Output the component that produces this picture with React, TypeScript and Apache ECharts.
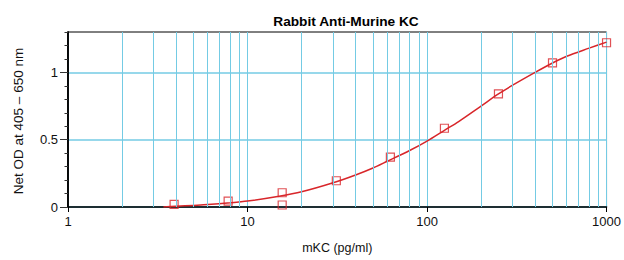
import React, { useEffect, useRef } from "react";
import * as echarts from "echarts";

const title = "Rabbit Anti-Murine KC";
const xName = "mKC (pg/ml)";
const yName = "Net OD at 405 \u2013 650 nm";

const pointX = [3.9, 7.8, 15.6, 15.6, 31.25, 62.5, 125, 250, 500, 1000];
const pointY = [0.02, 0.044, 0.106, 0.015, 0.195, 0.37, 0.585, 0.84, 1.07, 1.22];

const curveX = [3.4, 4, 5, 6, 8, 10, 15, 20, 30, 40, 50, 60, 80, 100, 125, 150, 200, 250, 300, 400, 500, 600, 800, 1000];
const curveY = [0, 0.005, 0.012, 0.018, 0.031, 0.044, 0.08, 0.113, 0.18, 0.238, 0.29, 0.34, 0.42, 0.49, 0.57, 0.635, 0.75, 0.84, 0.905, 1.0, 1.07, 1.12, 1.18, 1.225];

const minorGridX = [2, 3, 4, 5, 6, 7, 8, 9, 20, 30, 40, 50, 60, 70, 80, 90, 200, 300, 400, 500, 600, 700, 800, 900];

const GRID_COLOR = "#74cbe4";
const RED = "#d8262a";
const FONT = "Liberation Sans, Arial, sans-serif";

export default function App() {
  const ref = useRef<HTMLDivElement>(null);
  useEffect(() => {
    const chart = echarts.init(ref.current!, null, { renderer: "svg" });
    chart.setOption({
      animation: false,
      title: {
        text: title,
        left: 341,
        textAlign: "center",
        top: 9,
        textStyle: { fontFamily: FONT, fontSize: 13.7, fontWeight: "bold", color: "#000" },
      },
      grid: {
        left: 68,
        right: 17,
        top: 32,
        bottom: 53,
        show: true,
        borderColor: "#000",
        borderWidth: 1,
        backgroundColor: "transparent",
      },
      graphic: [
        {
          type: "text",
          x: 18,
          y: 121,
          rotation: Math.PI / 2,
          style: {
            text: yName,
            fontFamily: FONT,
            fontSize: 13.5,
            fill: "#111",
            textAlign: "center",
            textVerticalAlign: "middle",
          },
        },
      ],
      xAxis: {
        type: "log",
        logBase: 10,
        min: 1,
        max: 1000,
        name: xName,
        nameLocation: "middle",
        nameGap: 34,
        nameTextStyle: { fontFamily: FONT, fontSize: 12.5, color: "#111" },
        axisLine: { lineStyle: { color: "#000", width: 1.5 } },
        axisTick: { show: true, length: 5, lineStyle: { color: "#000" } },
        axisLabel: {
          fontFamily: FONT,
          fontSize: 13,
          color: "#111",
          margin: 8,
          formatter: (v: number) => String(Math.round(v)),
        },
        splitLine: { show: true, lineStyle: { color: GRID_COLOR, width: 1 } },
      },
      yAxis: [
        {
          type: "value",
          min: 0,
          max: 1.3,
          interval: 0.1,
          axisLine: { show: true, lineStyle: { color: "#000", width: 1.5 } },
          axisTick: { show: true, length: 3.5, lineStyle: { color: "#333" } },
          axisLabel: { show: false },
          splitLine: {
            show: true,
            lineStyle: {
              color: [GRID_COLOR, "transparent", "transparent", "transparent", "transparent"],
              width: 1.5,
            },
          },
        },
        {
          type: "value",
          min: 0,
          max: 1.3,
          interval: 0.5,
          position: "left",
          axisLine: { show: true, lineStyle: { color: "#000", width: 1.5 } },
          axisTick: { show: true, length: 8, lineStyle: { color: "#333" } },
          axisLabel: {
            fontFamily: FONT,
            fontSize: 13,
            color: "#111",
            margin: 10,
            showMaxLabel: false,
            formatter: (v: number) => (Math.abs(v * 2 - Math.round(v * 2)) < 1e-6 ? String(v) : ""),
          },
          splitLine: { show: false },
        },
      ],
      series: [
        {
          type: "line",
          data: [],
          markLine: {
            silent: true,
            symbol: "none",
            label: { show: false },
            lineStyle: { color: GRID_COLOR, type: "solid", width: 1 },
            data: minorGridX.map((v) => ({ xAxis: v })),
          },
        },
        {
          type: "line",
          data: curveX.map((x, i) => [x, curveY[i]]),
          smooth: 0.3,
          showSymbol: false,
          lineStyle: { color: RED, width: 1.5 },
          z: 3,
        },
        {
          type: "scatter",
          data: pointX.map((x, i) => [x, pointY[i]]),
          symbol: "rect",
          symbolSize: 8,
          itemStyle: { color: "transparent", borderColor: RED, borderWidth: 1.2 },
          z: 4,
        },
      ],
    });
    return () => chart.dispose();
  }, []);
  return <div ref={ref} style={{ width: 624, height: 260, position: "absolute", left: 0, top: 0 }} />;
}
